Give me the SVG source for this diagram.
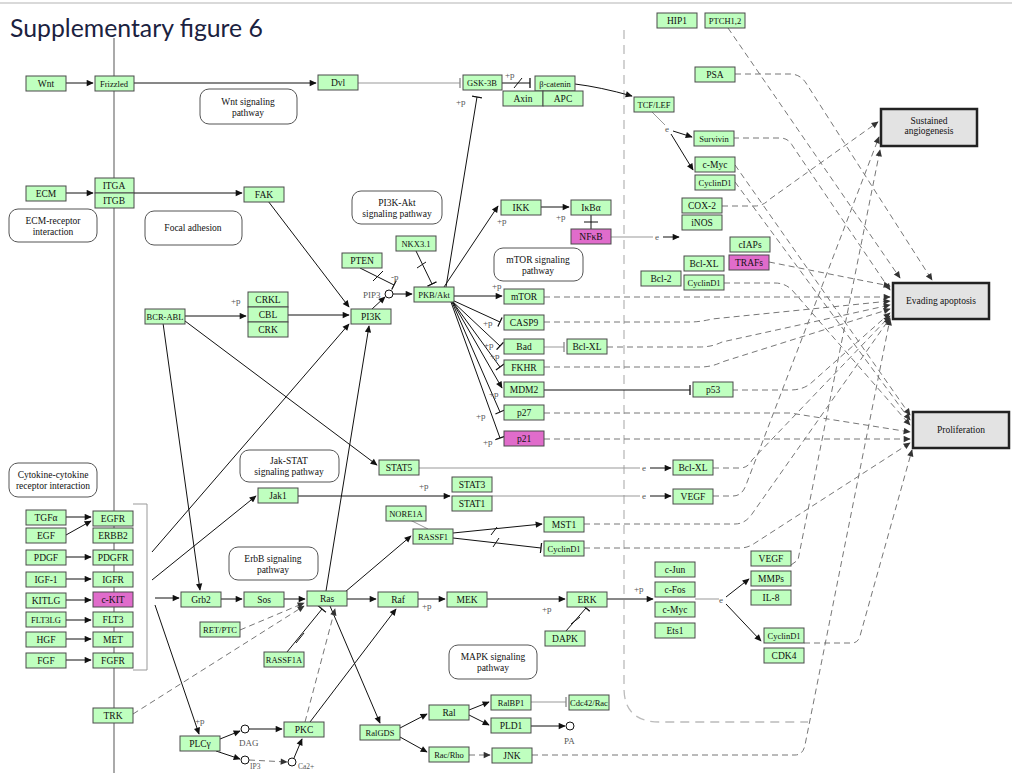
<svg xmlns="http://www.w3.org/2000/svg" width="1012" height="773" viewBox="0 0 1012 773">
<style>
.n rect{fill:#bfffbf;stroke:#4a4a4a;stroke-width:1}
.n.m rect{fill:#e06ccb}
.n text,.pw text,.ph text{font-family:"Liberation Serif",serif;font-size:9.5px;text-anchor:middle;fill:#111}
.n text.sm{font-size:8.5px}
.pw rect{fill:#fff;stroke:#555;stroke-width:1}
.ph rect{fill:#e3e3e3;stroke:#222;stroke-width:2.5}
.s{stroke:#111;stroke-width:1;fill:none}
.g{stroke:#999;stroke-width:1;fill:none}
.d{stroke:#777;stroke-width:1;fill:none;stroke-dasharray:6 4}
.lb{font-family:"Liberation Serif",serif;font-size:9px;fill:#555}
.A{marker-end:url(#a)}
.Ag{marker-end:url(#ag)}
.B{marker-end:url(#b)}
.Bg{marker-end:url(#bg)}
</style>
<defs>
<marker id="a" viewBox="0 0 10 10" refX="9" refY="5" markerWidth="8" markerHeight="7" markerUnits="userSpaceOnUse" orient="auto"><path d="M0,0.5L10,5L0,9.5z" fill="#111"/></marker>
<marker id="ag" viewBox="0 0 10 10" refX="9" refY="5" markerWidth="8" markerHeight="7" markerUnits="userSpaceOnUse" orient="auto"><path d="M0,0.5L10,5L0,9.5z" fill="#333"/></marker>
<marker id="b" viewBox="0 0 2 10" refX="1" refY="5" markerWidth="2" markerHeight="11" markerUnits="userSpaceOnUse" orient="auto"><path d="M1,0V10" stroke="#111" stroke-width="1.3"/></marker>
<marker id="bg" viewBox="0 0 2 10" refX="1" refY="5" markerWidth="2" markerHeight="11" markerUnits="userSpaceOnUse" orient="auto"><path d="M1,0V10" stroke="#888" stroke-width="1.3"/></marker>
</defs>
<rect width="1012" height="773" fill="#fff"/>
<line x1="0" y1="3" x2="1012" y2="3" stroke="#ccc" stroke-width="1.5"/>
<text x="10" y="37" font-family="Lato,'Open Sans',sans-serif" font-size="24.8" fill="#1b2240">Supplementary figure 6</text>

<!-- membrane and nucleus outlines -->
<line x1="114" y1="38" x2="114" y2="773" stroke="#aaa" stroke-width="2"/>
<path d="M624,30V688Q624,722 660,722H808" fill="none" stroke="#bbb" stroke-width="1.3" stroke-dasharray="9 6"/>

<!-- pathway reference boxes -->
<g id="pw-wnt" class="pw"><rect x="200" y="89" width="97" height="35" rx="9"/><text x="248" y="105">Wnt signaling</text><text x="248" y="116">pathway</text></g>
<g id="pw-ecm" class="pw"><rect x="9" y="209" width="88" height="33" rx="9"/><text x="53" y="224">ECM-receptor</text><text x="53" y="235">interaction</text></g>
<g id="pw-focal" class="pw"><rect x="145" y="211" width="97" height="34" rx="9"/><text x="193" y="231">Focal adhesion</text></g>
<g id="pw-pi3k" class="pw"><rect x="352" y="191" width="90" height="33" rx="9"/><text x="397" y="206">PI3K-Akt</text><text x="397" y="217">signaling pathway</text></g>
<g id="pw-mtor" class="pw"><rect x="494" y="248" width="89" height="33" rx="9"/><text x="538" y="263">mTOR signaling</text><text x="538" y="274">pathway</text></g>
<g id="pw-cyto" class="pw"><rect x="9" y="463" width="88" height="34" rx="9"/><text x="53" y="478">Cytokine-cytokine</text><text x="53" y="489">receptor interaction</text></g>
<g id="pw-jak" class="pw"><rect x="240" y="450" width="99" height="32" rx="9"/><text x="289" y="464">Jak-STAT</text><text x="289" y="475">signaling pathway</text></g>
<g id="pw-erbb" class="pw"><rect x="229" y="547" width="89" height="33" rx="9"/><text x="273" y="562">ErbB signaling</text><text x="273" y="573">pathway</text></g>
<g id="pw-mapk" class="pw"><rect x="449" y="645" width="88" height="34" rx="9"/><text x="493" y="660">MAPK signaling</text><text x="493" y="671">pathway</text></g>

<!-- connectors -->
<g id="connectors">
<!-- solid activation -->
<path class="s A" d="M66,83H93"/>
<path class="s A" d="M134,83H316"/>
<path class="s A" d="M66,193H93"/>
<path class="s A" d="M134,193H242"/>
<path class="s A" d="M268,201L349,307"/>
<path class="s A" d="M288,315H349"/>
<path class="s A" d="M185,316H246"/>
<path class="s A" d="M163,323L200,590"/>
<path class="s A" d="M185,321L377,465"/>
<path class="s A" d="M152,552L349,324"/>
<path class="s A" d="M152,580L256,496"/>
<path class="s A" d="M326,591L369,326"/>
<path class="s A" d="M372,309L385,297"/>
<path class="s A" d="M393,294H412"/>
<path class="s A" d="M444,287L498,206"/>
<path class="s A" d="M454,296H502"/>
<path class="s A" d="M452,301L502,388"/>
<path class="s A" d="M541,207H569"/>
<path class="g" d="M611,237H653"/>
<path class="s A" d="M663,237H679"/>
<path class="s A" d="M575,84Q600,87 632,96"/>
<path class="g" d="M652,112L665,125"/>
<path class="s A" d="M673,131L692,137"/>
<path class="s A" d="M671,134L693,170"/>
<path class="s A" d="M298,496H450"/>
<path class="g" d="M419,468H640"/>
<path class="s A" d="M650,468H671"/>
<path class="g" d="M492,496H640"/>
<path class="s A" d="M650,496H671"/>
<path class="s A" d="M66,517H91"/>
<path class="s A" d="M66,535L91,521"/>
<path class="s A" d="M66,557H91"/>
<path class="s A" d="M66,579H91"/>
<path class="s A" d="M66,600H91"/>
<path class="s A" d="M66,620H91"/>
<path class="s A" d="M66,639H91"/>
<path class="s A" d="M66,660H91"/>
<path class="g" d="M133,504H147V670H133"/>
<path class="s A" d="M155,598H179"/>
<path class="s A" d="M155,605L199,734"/>
<path class="s A" d="M221,599H242"/>
<path class="s A" d="M284,599H305"/>
<path class="s A" d="M347,599H376"/>
<path class="s A" d="M418,599H445"/>
<path class="s A" d="M487,599H565"/>
<path class="s A" d="M607,599H653"/>
<path class="g" d="M695,599H719"/>
<path class="s A" d="M726,597L749,579"/>
<path class="s A" d="M726,604L761,641"/>
<path class="s A" d="M345,592L411,536"/>
<path class="s A" d="M330,606L380,723"/>
<path class="s A" d="M310,722L396,609"/>
<path class="s A" d="M400,728L427,714"/>
<path class="s A" d="M400,737L427,752"/>
<path class="s A" d="M469,710L489,702"/>
<path class="s A" d="M469,715L489,725"/>
<path class="s A" d="M531,726H565"/>
<path class="s A" d="M220,739L240,731"/>
<path class="s A" d="M216,751L240,759"/>
<path class="s A" d="M249,729H282"/>
<path class="s A" d="M294,758L302,739"/>
<path class="s A" d="M453,533L542,524"/>
<!-- dashed activation -->
<path class="d Ag" d="M240,630L304,603"/>
<path class="d Ag" d="M133,714L304,606"/>
<path class="d Ag" d="M305,722L335,609"/>
<path class="d Ag" d="M249,760L287,762"/>
<path class="d Ag" d="M469,755H490"/>
<!-- inhibition -->
<path class="g Bg" d="M357,83H460"/>
<path class="s B" d="M502,83H530"/>
<path class="s B" d="M446,287L477,97"/>
<path class="s B" d="M360,268L394,285"/>
<path class="s B" d="M416,251L432,284"/>
<path class="s B" d="M452,300L500,322"/>
<path class="s B" d="M452,301L500,346"/>
<path class="s B" d="M452,301L500,367"/>
<path class="s B" d="M452,302L500,412"/>
<path class="s B" d="M451,302L500,438"/>
<path class="g Bg" d="M544,347H564"/>
<path class="s B" d="M544,390H690"/>
<path class="s" d="M591,215V229M584,222H598"/>
<path class="s B" d="M453,538L541,548"/>
<path class="s B" d="M287,652L322,609"/>
<path class="s B" d="M566,631L586,608"/>
<path class="g Bg" d="M531,702H566"/>
<path class="g" d="M410,520L428,529"/>
<!-- dissociation marks -->
<path class="s" d="M514,88L522,78M373,281L383,271M417,268L426,262M491,535L497,527M493,547L499,538M296,643L304,633M571,624L580,617"/>
<!-- to phenotypes -->
<path class="d Ag" d="M722,206H755Q763,206 770,199L878,122"/>
<path class="d Ag" d="M713,496H733Q742,496 746,485L879,137"/>
<path class="d Ag" d="M791,565L798,560L880,150"/>
<path class="d Ag" d="M728,28L900,278"/>
<path class="d Ag" d="M735,74H790Q800,74 806,83L932,280"/>
<path class="d Ag" d="M733,138H780Q788,138 792,145L890,290"/>
<path class="d Ag" d="M769,262L890,286"/>
<path class="d Ag" d="M544,297H890"/>
<path class="d Ag" d="M544,322H690Q700,322 712,319L890,301"/>
<path class="d Ag" d="M607,347H700Q712,347 722,342L890,305"/>
<path class="d Ag" d="M544,367H700Q712,367 722,362L890,309"/>
<path class="d Ag" d="M732,390H790Q802,390 810,384L890,313"/>
<path class="d Ag" d="M713,468H740Q748,468 752,460L890,316"/>
<path class="d Ag" d="M584,524H735Q745,524 752,514L890,318"/>
<path class="d Ag" d="M532,755H795Q803,755 805,745L890,319"/>
<path class="d Ag" d="M735,165L910,415"/>
<path class="d Ag" d="M735,182L910,420"/>
<path class="d Ag" d="M724,283H775Q785,283 792,290L910,425"/>
<path class="d Ag" d="M544,413H790L910,432"/>
<path class="d Ag" d="M544,439H910"/>
<path class="d Ag" d="M584,548H740Q748,548 755,543L910,443"/>
<path class="d Ag" d="M804,643H852Q858,643 860,636L912,450"/>
<!-- small compounds -->
<circle cx="389" cy="294" r="4" fill="#fff" stroke="#111"/>
<circle cx="245" cy="729" r="4" fill="#fff" stroke="#111"/>
<circle cx="245" cy="760" r="4" fill="#fff" stroke="#111"/>
<circle cx="292" cy="762" r="4" fill="#fff" stroke="#111"/>
<circle cx="570" cy="726" r="4" fill="#fff" stroke="#111"/>
</g>

<!-- edge labels -->
<g id="labels" class="lb">
<text x="363" y="298">PIP3</text>
<text x="391" y="280">-p</text>
<text x="505" y="78">+p</text>
<text x="456" y="105">+p</text>
<text x="497" y="224">+p</text>
<text x="556" y="220">+p</text>
<text x="231" y="304">+p</text>
<text x="492" y="289">+p</text>
<text x="483" y="326">+p</text>
<text x="484" y="348">+p</text>
<text x="490" y="359">+p</text>
<text x="489" y="397">+p</text>
<text x="476" y="419">+p</text>
<text x="483" y="445">+p</text>
<text x="419" y="489">+p</text>
<text x="422" y="609">+p</text>
<text x="542" y="612">+p</text>
<text x="634" y="592">+p</text>
<text x="195" y="724">+p</text>
<text x="665" y="132">e</text>
<text x="655" y="240">e</text>
<text x="642" y="471">e</text>
<text x="642" y="499">e</text>
<text x="719" y="603">e</text>
<text x="239" y="746">DAG</text>
<text x="250" y="769" font-size="7.5">IP3</text>
<text x="298" y="769" font-size="7.5">Ca2+</text>
<text x="564" y="744">PA</text>
</g>

<!-- gene products -->
<g id="n-wnt" class="n"><rect x="26" y="76" width="40" height="15"/><text x="46" y="87">Wnt</text></g>
<g id="n-frizzled" class="n"><rect x="95" y="76" width="39" height="15"/><text class="sm" x="114" y="87">Frizzled</text></g>
<g id="n-dvl" class="n"><rect x="318" y="75" width="40" height="15"/><text x="338" y="86">Dvl</text></g>
<g id="n-gsk3b" class="n"><rect x="463" y="75" width="39" height="15"/><text class="sm" x="482" y="86">GSK-3B</text></g>
<g id="n-bcat" class="n"><rect x="535" y="76" width="40" height="15"/><text class="sm" x="555" y="87">β-catenin</text></g>
<g id="n-axin" class="n"><rect x="503" y="91" width="40" height="15"/><text x="523" y="102">Axin</text></g>
<g id="n-apc" class="n"><rect x="543" y="91" width="40" height="15"/><text x="563" y="102">APC</text></g>
<g id="n-tcf" class="n"><rect x="634" y="97" width="40" height="15"/><text class="sm" x="654" y="108">TCF/LEF</text></g>
<g id="n-hip1" class="n"><rect x="657" y="13" width="40" height="15"/><text x="677" y="24">HIP1</text></g>
<g id="n-ptch" class="n"><rect x="705" y="13" width="40" height="15"/><text class="sm" x="725" y="24">PTCH1,2</text></g>
<g id="n-psa" class="n"><rect x="695" y="67" width="40" height="15"/><text x="715" y="78">PSA</text></g>
<g id="n-survivin" class="n"><rect x="694" y="131" width="40" height="15"/><text class="sm" x="714" y="142">Survivin</text></g>
<g id="n-cmyc1" class="n"><rect x="695" y="157" width="40" height="15"/><text x="715" y="168">c-Myc</text></g>
<g id="n-ccnd1a" class="n"><rect x="695" y="175" width="40" height="15"/><text class="sm" x="715" y="186">CyclinD1</text></g>
<g id="n-cox2" class="n"><rect x="682" y="198" width="40" height="15"/><text x="702" y="209">COX-2</text></g>
<g id="n-inos" class="n"><rect x="682" y="215" width="40" height="15"/><text x="702" y="226">iNOS</text></g>
<g id="n-ikk" class="n"><rect x="501" y="200" width="40" height="15"/><text x="521" y="211">IKK</text></g>
<g id="n-ikba" class="n"><rect x="571" y="200" width="40" height="15"/><text x="591" y="211">IκBα</text></g>
<g id="n-nfkb" class="n m"><rect x="571" y="229" width="40" height="15"/><text x="591" y="240">NFκB</text></g>
<g id="n-ciaps" class="n"><rect x="730" y="237" width="40" height="15"/><text x="750" y="248">cIAPs</text></g>
<g id="n-trafs" class="n m"><rect x="729" y="255" width="40" height="15"/><text x="749" y="266">TRAFs</text></g>
<g id="n-bclxl1" class="n"><rect x="684" y="256" width="40" height="15"/><text x="704" y="267">Bcl-XL</text></g>
<g id="n-ccnd1b" class="n"><rect x="684" y="275" width="40" height="15"/><text class="sm" x="704" y="286">CyclinD1</text></g>
<g id="n-bcl2" class="n"><rect x="641" y="271" width="40" height="15"/><text x="661" y="282">Bcl-2</text></g>
<g id="n-ecm" class="n"><rect x="26" y="186" width="40" height="15"/><text x="46" y="197">ECM</text></g>
<g id="n-itga" class="n"><rect x="95" y="178" width="39" height="15"/><text x="114" y="189">ITGA</text></g>
<g id="n-itgb" class="n"><rect x="95" y="193" width="39" height="15"/><text x="114" y="204">ITGB</text></g>
<g id="n-fak" class="n"><rect x="244" y="187" width="40" height="15"/><text x="264" y="198">FAK</text></g>
<g id="n-pten" class="n"><rect x="342" y="253" width="40" height="15"/><text x="362" y="264">PTEN</text></g>
<g id="n-nkx31" class="n"><rect x="396" y="236" width="40" height="15"/><text class="sm" x="416" y="247">NKX3.1</text></g>
<g id="n-pi3k" class="n"><rect x="351" y="309" width="40" height="15"/><text x="371" y="320">PI3K</text></g>
<g id="n-akt" class="n"><rect x="414" y="287" width="40" height="15"/><text class="sm" x="434" y="298">PKB/Akt</text></g>
<g id="n-crkl" class="n"><rect x="248" y="292" width="40" height="15"/><text x="268" y="303">CRKL</text></g>
<g id="n-cbl" class="n"><rect x="248" y="307" width="40" height="15"/><text x="268" y="318">CBL</text></g>
<g id="n-crk" class="n"><rect x="248" y="322" width="40" height="15"/><text x="268" y="333">CRK</text></g>
<g id="n-bcrabl" class="n"><rect x="145" y="309" width="40" height="15"/><text class="sm" x="165" y="320">BCR-ABL</text></g>
<g id="n-mtor" class="n"><rect x="504" y="289" width="40" height="15"/><text x="524" y="300">mTOR</text></g>
<g id="n-casp9" class="n"><rect x="504" y="315" width="40" height="15"/><text x="524" y="326">CASP9</text></g>
<g id="n-bad" class="n"><rect x="504" y="339" width="40" height="15"/><text x="524" y="350">Bad</text></g>
<g id="n-bclxl2" class="n"><rect x="567" y="339" width="40" height="15"/><text x="587" y="350">Bcl-XL</text></g>
<g id="n-fkhr" class="n"><rect x="504" y="360" width="40" height="15"/><text x="524" y="371">FKHR</text></g>
<g id="n-mdm2" class="n"><rect x="504" y="382" width="40" height="15"/><text x="524" y="393">MDM2</text></g>
<g id="n-p53" class="n"><rect x="693" y="382" width="40" height="15"/><text x="713" y="393">p53</text></g>
<g id="n-p27" class="n"><rect x="504" y="405" width="40" height="15"/><text x="524" y="416">p27</text></g>
<g id="n-p21" class="n m"><rect x="504" y="431" width="40" height="15"/><text x="524" y="442">p21</text></g>
<g id="n-stat5" class="n"><rect x="379" y="460" width="40" height="15"/><text x="399" y="471">STAT5</text></g>
<g id="n-stat3" class="n"><rect x="452" y="477" width="40" height="15"/><text x="472" y="488">STAT3</text></g>
<g id="n-stat1" class="n"><rect x="452" y="496" width="40" height="15"/><text x="472" y="507">STAT1</text></g>
<g id="n-jak1" class="n"><rect x="258" y="488" width="40" height="15"/><text x="278" y="499">Jak1</text></g>
<g id="n-bclxl3" class="n"><rect x="673" y="460" width="40" height="15"/><text x="693" y="471">Bcl-XL</text></g>
<g id="n-vegf1" class="n"><rect x="673" y="489" width="40" height="15"/><text x="693" y="500">VEGF</text></g>
<g id="n-tgfa" class="n"><rect x="26" y="510" width="40" height="15"/><text x="46" y="521">TGFα</text></g>
<g id="n-egf" class="n"><rect x="26" y="528" width="40" height="15"/><text x="46" y="539">EGF</text></g>
<g id="n-pdgf" class="n"><rect x="26" y="550" width="40" height="15"/><text x="46" y="561">PDGF</text></g>
<g id="n-igf1" class="n"><rect x="26" y="572" width="40" height="15"/><text x="46" y="583">IGF-1</text></g>
<g id="n-kitlg" class="n"><rect x="26" y="593" width="40" height="15"/><text x="46" y="604">KITLG</text></g>
<g id="n-flt3lg" class="n"><rect x="26" y="612" width="40" height="15"/><text class="sm" x="46" y="623">FLT3LG</text></g>
<g id="n-hgf" class="n"><rect x="26" y="632" width="40" height="15"/><text x="46" y="643">HGF</text></g>
<g id="n-fgf" class="n"><rect x="26" y="653" width="40" height="15"/><text x="46" y="664">FGF</text></g>
<g id="n-egfr" class="n"><rect x="93" y="511" width="40" height="15"/><text x="113" y="522">EGFR</text></g>
<g id="n-erbb2" class="n"><rect x="93" y="528" width="40" height="15"/><text x="113" y="539">ERBB2</text></g>
<g id="n-pdgfr" class="n"><rect x="93" y="550" width="40" height="15"/><text x="113" y="561">PDGFR</text></g>
<g id="n-igfr" class="n"><rect x="93" y="572" width="40" height="15"/><text x="113" y="583">IGFR</text></g>
<g id="n-ckit" class="n m"><rect x="93" y="592" width="40" height="15"/><text x="113" y="603">c-KIT</text></g>
<g id="n-flt3" class="n"><rect x="93" y="612" width="40" height="15"/><text x="113" y="623">FLT3</text></g>
<g id="n-met" class="n"><rect x="93" y="632" width="40" height="15"/><text x="113" y="643">MET</text></g>
<g id="n-fgfr" class="n"><rect x="93" y="653" width="40" height="15"/><text x="113" y="664">FGFR</text></g>
<g id="n-trk" class="n"><rect x="93" y="708" width="40" height="15"/><text x="113" y="719">TRK</text></g>
<g id="n-grb2" class="n"><rect x="181" y="592" width="40" height="15"/><text x="201" y="603">Grb2</text></g>
<g id="n-sos" class="n"><rect x="244" y="592" width="40" height="15"/><text x="264" y="603">Sos</text></g>
<g id="n-ras" class="n"><rect x="307" y="591" width="40" height="15"/><text x="327" y="602">Ras</text></g>
<g id="n-retptc" class="n"><rect x="200" y="622" width="40" height="15"/><text class="sm" x="220" y="633">RET/PTC</text></g>
<g id="n-rassf1a" class="n"><rect x="264" y="652" width="40" height="15"/><text class="sm" x="284" y="663">RASSF1A</text></g>
<g id="n-raf" class="n"><rect x="378" y="592" width="40" height="15"/><text x="398" y="603">Raf</text></g>
<g id="n-mek" class="n"><rect x="447" y="592" width="40" height="15"/><text x="467" y="603">MEK</text></g>
<g id="n-erk" class="n"><rect x="567" y="592" width="40" height="15"/><text x="587" y="603">ERK</text></g>
<g id="n-dapk" class="n"><rect x="545" y="631" width="40" height="15"/><text x="565" y="642">DAPK</text></g>
<g id="n-cjun" class="n"><rect x="655" y="562" width="40" height="15"/><text x="675" y="573">c-Jun</text></g>
<g id="n-cfos" class="n"><rect x="655" y="582" width="40" height="15"/><text x="675" y="593">c-Fos</text></g>
<g id="n-cmyc2" class="n"><rect x="655" y="602" width="40" height="15"/><text x="675" y="613">c-Myc</text></g>
<g id="n-ets1" class="n"><rect x="655" y="623" width="40" height="15"/><text x="675" y="634">Ets1</text></g>
<g id="n-vegf2" class="n"><rect x="751" y="551" width="40" height="15"/><text x="771" y="562">VEGF</text></g>
<g id="n-mmps" class="n"><rect x="751" y="571" width="40" height="15"/><text x="771" y="582">MMPs</text></g>
<g id="n-il8" class="n"><rect x="751" y="590" width="40" height="15"/><text x="771" y="601">IL-8</text></g>
<g id="n-ccnd1c" class="n"><rect x="764" y="628" width="40" height="15"/><text class="sm" x="784" y="639">CyclinD1</text></g>
<g id="n-cdk4" class="n"><rect x="764" y="648" width="40" height="15"/><text x="784" y="659">CDK4</text></g>
<g id="n-nore1a" class="n"><rect x="386" y="506" width="40" height="15"/><text class="sm" x="406" y="517">NORE1A</text></g>
<g id="n-rassf1" class="n"><rect x="413" y="529" width="40" height="15"/><text class="sm" x="433" y="540">RASSF1</text></g>
<g id="n-mst1" class="n"><rect x="544" y="517" width="40" height="15"/><text x="564" y="528">MST1</text></g>
<g id="n-ccnd1d" class="n"><rect x="544" y="541" width="40" height="15"/><text class="sm" x="564" y="552">CyclinD1</text></g>
<g id="n-ralgds" class="n"><rect x="360" y="725" width="40" height="15"/><text class="sm" x="380" y="736">RalGDS</text></g>
<g id="n-ral" class="n"><rect x="429" y="705" width="40" height="15"/><text x="449" y="716">Ral</text></g>
<g id="n-racrho" class="n"><rect x="429" y="747" width="40" height="15"/><text class="sm" x="449" y="758">Rac/Rho</text></g>
<g id="n-ralbp1" class="n"><rect x="491" y="695" width="40" height="15"/><text class="sm" x="511" y="706">RalBP1</text></g>
<g id="n-pld1" class="n"><rect x="491" y="718" width="40" height="15"/><text x="511" y="729">PLD1</text></g>
<g id="n-jnk" class="n"><rect x="492" y="748" width="40" height="15"/><text x="512" y="759">JNK</text></g>
<g id="n-cdc42" class="n"><rect x="569" y="695" width="40" height="15"/><text class="sm" x="589" y="706">Cdc42/Rac</text></g>
<g id="n-plcg" class="n"><rect x="180" y="736" width="40" height="15"/><text x="200" y="747">PLCγ</text></g>
<g id="n-pkc" class="n"><rect x="284" y="722" width="40" height="15"/><text x="304" y="733">PKC</text></g>

<!-- outcomes -->
<g id="ph-angio" class="ph"><rect x="881" y="109" width="96" height="37"/><text x="929" y="124">Sustained</text><text x="929" y="134">angiogenesis</text></g>
<g id="ph-apop" class="ph"><rect x="893" y="283" width="96" height="36"/><text x="941" y="304">Evading apoptosis</text></g>
<g id="ph-prolif" class="ph"><rect x="913" y="412" width="96" height="36"/><text x="961" y="433">Proliferation</text></g>
</svg>
